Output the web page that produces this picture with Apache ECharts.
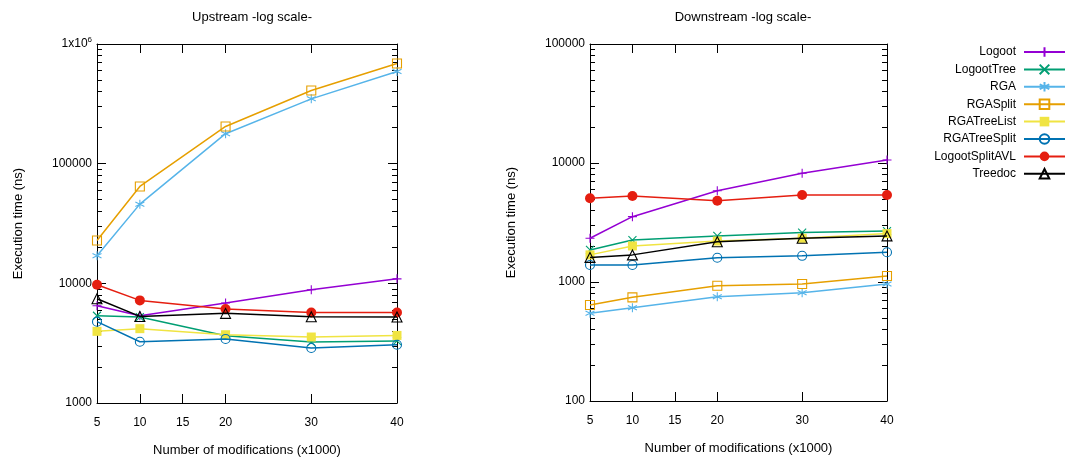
<!DOCTYPE html>
<html>
<head>
<meta charset="utf-8">
<script src="https://cdn.jsdelivr.net/npm/echarts@6/dist/echarts.min.js"></script>
<style>html,body{margin:0;padding:0;background:#fff;}#c{width:1073px;height:462px;}</style>
</head>
<body>
<div id="c"></div>
<script>
const xValues = [5, 10, 15, 20, 30, 40];
const xPoints = [5, 10, 20, 30, 40];
const seriesNames = ['Logoot', 'LogootTree', 'RGA', 'RGASplit', 'RGATreeList', 'RGATreeSplit', 'LogootSplitAVL', 'Treedoc'];

// Upstream (ns)
const upLogoot        = [6500, 5360, 6840, 8850, 10900];
const upLogootTree    = [5360, 5230, 3650, 3230, 3300];
const upRGA           = [17000, 45900, 178000, 348000, 589000];
const upRGASplit      = [22800, 64500, 204600, 409000, 687000];
const upRGATreeList   = [3970, 4180, 3720, 3560, 3670];
const upRGATreeSplit  = [4780, 3250, 3430, 2880, 3070];
const upLogootSplitAVL= [9730, 7200, 6100, 5710, 5710];
const upTreedoc       = [7430, 5290, 5610, 5260, 5230];

// Downstream (ns)
const downLogoot        = [2330, 3540, 5850, 8190, 10600];
const downLogootTree    = [1860, 2250, 2440, 2600, 2680];
const downRGA           = [546, 608, 753, 813, 962];
const downRGASplit      = [641, 743, 931, 962, 1122];
const downRGATreeList   = [1690, 2010, 2210, 2330, 2550];
const downRGATreeSplit  = [1390, 1390, 1600, 1660, 1780];
const downLogootSplitAVL= [5050, 5280, 4820, 5380, 5380];
const downTreedoc       = [1610, 1690, 2180, 2330, 2440];

const upData = [upLogoot, upLogootTree, upRGA, upRGASplit, upRGATreeList, upRGATreeSplit, upLogootSplitAVL, upTreedoc];
const downData = [downLogoot, downLogootTree, downRGA, downRGASplit, downRGATreeList, downRGATreeSplit, downLogootSplitAVL, downTreedoc];

const colors = ['#9400d3', '#009e73', '#56b4e9', '#e69f00', '#f0e442', '#0072b2', '#e51e10', '#000000'];
const symbols = [
  'path://M5,0L5,10M0,5L10,5',
  'path://M0,0L10,10M0,10L10,0',
  'path://M5,0L5,10M0.7,2.5L9.3,7.5M0.7,7.5L9.3,2.5',
  'path://M0,0L10,0L10,10L0,10Z',
  'rect',
  'path://M10,5A5,5,0,1,1,0,5A5,5,0,1,1,10,5Z',
  'circle',
  'path://M5,0L10,9L0,9Z'
];
const symbolFilled = [false, false, false, false, true, false, true, false];
const symbolSizes = [9, 8, 9, 9, 9, 9, 10, 10];

const FONT = 'Liberation Sans, Arial, sans-serif';

function minorTicks(lo, hi) {
  const out = [];
  for (let d = lo; d < hi; d *= 10) for (let k = 2; k <= 9; k++) out.push(d * k);
  return out;
}
function majorTicks(lo, hi) {
  const out = [];
  for (let d = lo; d <= hi; d *= 10) out.push(d);
  return out;
}

function xAxesFor(gridIndex) {
  const base = {
    type: 'value', gridIndex: gridIndex, min: 5, max: 40,
    splitLine: { show: false },
    axisLine: { show: true, lineStyle: { color: '#000', width: 1 } },
    axisTick: { show: true, inside: true, length: 9, customValues: xValues, lineStyle: { color: '#000' } }
  };
  return [
    Object.assign({}, base, {
      position: 'bottom',
      axisLabel: { show: true, customValues: xValues, color: '#000', fontSize: 12, fontFamily: FONT, margin: 14 },
      name: 'Number of modifications (x1000)', nameLocation: 'middle', nameGap: 41,
      nameTextStyle: { color: '#000', fontSize: 13, fontFamily: FONT }
    }),
    Object.assign({}, base, { position: 'top', axisLabel: { show: false } })
  ];
}

function yAxesFor(gridIndex, lo, hi) {
  const common = {
    type: 'log', logBase: 10, gridIndex: gridIndex, min: lo, max: hi,
    splitLine: { show: false }, minorSplitLine: { show: false }
  };
  return [
    Object.assign({}, common, {
      position: 'left',
      axisLine: { show: true, lineStyle: { color: '#000', width: 1 } },
      axisTick: { show: true, inside: true, length: 9, customValues: majorTicks(lo, hi), lineStyle: { color: '#000' } },
      axisLabel: {
        show: true, customValues: majorTicks(lo, hi), color: '#000', fontSize: 12, fontFamily: FONT, margin: 5,
        formatter: function (v) {
          if (Math.abs(v - 1e6) < 1) return '{a|1x10}{s|6}';
          return String(Math.round(v));
        },
        rich: {
          a: { fontSize: 12, fontFamily: FONT, color: '#000' },
          s: { fontSize: 8, fontFamily: FONT, color: '#000', padding: [0, 0, 8, 0] }
        }
      },
      name: 'Execution time (ns)', nameLocation: 'middle', nameGap: 72, nameRotate: 90,
      nameTextStyle: { color: '#000', fontSize: 13, fontFamily: FONT }
    }),
    Object.assign({}, common, {
      position: 'left',
      axisLine: { show: false },
      axisTick: { show: true, inside: true, length: 5, customValues: minorTicks(lo, hi), lineStyle: { color: '#000' } },
      axisLabel: { show: false }
    }),
    Object.assign({}, common, {
      position: 'right',
      axisLine: { show: true, lineStyle: { color: '#000', width: 1 } },
      axisTick: { show: true, inside: true, length: 9, customValues: majorTicks(lo, hi), lineStyle: { color: '#000' } },
      axisLabel: { show: false }
    }),
    Object.assign({}, common, {
      position: 'right',
      axisLine: { show: false },
      axisTick: { show: true, inside: true, length: 5, customValues: minorTicks(lo, hi), lineStyle: { color: '#000' } },
      axisLabel: { show: false }
    })
  ];
}

function makeSeries(data, xIdx, yIdx) {
  return seriesNames.map(function (name, i) {
    return {
      name: name, type: 'line', xAxisIndex: xIdx, yAxisIndex: yIdx,
      data: xPoints.map(function (x, j) { return [x, data[i][j]]; }),
      symbol: symbols[i], symbolSize: symbolSizes[i], showAllSymbol: true,
      lineStyle: { color: colors[i], width: 1.5 },
      itemStyle: {
        color: symbolFilled[i] ? colors[i] : 'rgba(0,0,0,0)',
        borderColor: colors[i], borderWidth: symbolFilled[i] ? 0 : 1.1
      },
      emphasis: { disabled: true },
      z: 2 + i, animation: false
    };
  });
}

const chart = echarts.init(document.getElementById('c'), null, { renderer: 'canvas' });
chart.setOption({
  animation: false,
  backgroundColor: '#fff',
  color: colors,
  title: [
    { text: 'Upstream -log scale-', left: 247, top: 6, textAlign: 'center',
      textStyle: { fontSize: 13, fontWeight: 'normal', color: '#000', fontFamily: FONT } },
    { text: 'Downstream -log scale-', left: 738, top: 6, textAlign: 'center',
      textStyle: { fontSize: 13, fontWeight: 'normal', color: '#000', fontFamily: FONT } }
  ],
  legend: {
    data: seriesNames, orient: 'vertical', right: 7, top: 46, align: 'right', padding: 0,
    itemWidth: 41, itemHeight: 12, itemGap: 5.4,
    textStyle: { fontSize: 12, color: '#000', fontFamily: FONT, padding: [0, 3, 0, 0] },
    selectedMode: false
  },
  grid: [
    { left: 97, top: 44, width: 300, height: 359 },
    { left: 590, top: 44, width: 297, height: 357 }
  ],
  xAxis: xAxesFor(0).concat(xAxesFor(1)),
  yAxis: yAxesFor(0, 1000, 1000000).concat(yAxesFor(1, 100, 100000)),
  series: makeSeries(upData, 0, 0).concat(makeSeries(downData, 2, 4))
});
</script>
</body>
</html>
